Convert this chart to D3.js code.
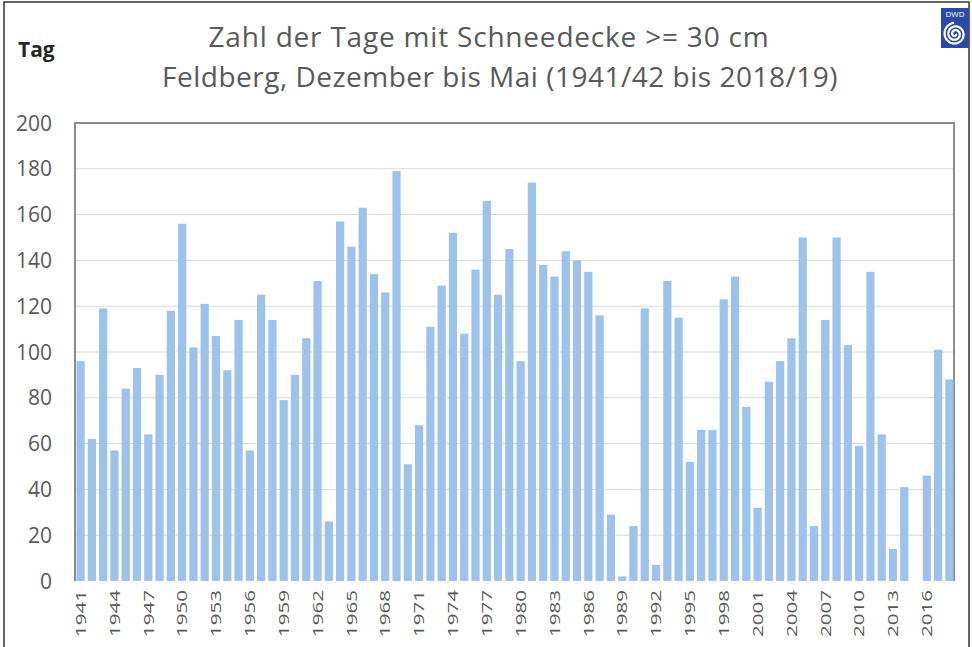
<!DOCTYPE html>
<html lang="de">
<head>
    <meta charset="UTF-8">
    <title>Zahl der Tage mit Schneedecke >= 30 cm</title>
    <script src="https://d3js.org/d3.v7.min.js"></script>
    <style>
        body { margin: 0; background: #fff; }
        svg { display: block; font-family: "Open Sans", sans-serif; }
    </style>
</head>
<body>
    <div id="chart"></div>
    <script>
        // Winter starting year (Dec..May), 1941/42 .. 2018/19
        const years = d3.range(1941, 2019);
        // days with snow depth >= 30 cm
        const days = [
            96, 62, 119, 57, 84, 93, 64, 90, 118, 156,
            102, 121, 107, 92, 114, 57, 125, 114, 79, 90,
            106, 131, 26, 157, 146, 163, 134, 126, 179, 51,
            68, 111, 129, 152, 108, 136, 166, 125, 145, 96,
            174, 138, 133, 144, 140, 135, 116, 29, 2, 24,
            119, 7, 131, 115, 52, 66, 66, 123, 133, 76,
            32, 87, 96, 106, 150, 24, 114, 150, 103, 59,
            135, 64, 14, 41, 0, 46, 101, 88
        ];
        const yTicks = [0, 20, 40, 60, 80, 100, 120, 140, 160, 180, 200];
        const xLabels = years.filter(y => (y - 1941) % 3 === 0);

        const width = 972, height = 647;
        const margin = { top: 123, right: 17, bottom: 66, left: 75 };

        const svg = d3.select("#chart").append("svg")
            .attr("width", width)
            .attr("height", height);

        // outer frame
        svg.append("path")
            .attr("d", `M4,${height} V2 H969 V${height}`)
            .attr("fill", "none")
            .attr("stroke", "#333")
            .attr("stroke-width", 1.5);

        const x = d3.scaleBand()
            .domain(years)
            .range([margin.left, width - margin.right])
            .paddingInner(0.27)
            .paddingOuter(0.13);

        const y = d3.scaleLinear()
            .domain([0, 200])
            .range([height - margin.bottom, margin.top]);

        // gridlines
        svg.append("g")
            .selectAll("line")
            .data(yTicks.slice(1))
            .join("line")
            .attr("x1", margin.left)
            .attr("x2", width - margin.right)
            .attr("y1", d => y(d))
            .attr("y2", d => y(d))
            .attr("stroke", "#d9d9d9")
            .attr("stroke-width", 1);

        // plot border (left, top, right)
        svg.append("path")
            .attr("d", `M${margin.left},${y(0)} V${y(200)} H${width - margin.right - 1} V${y(0)}`)
            .attr("fill", "none")
            .attr("stroke", "#8c8c8c")
            .attr("stroke-width", 2);

        // bars
        svg.append("g")
            .selectAll("rect")
            .data(years)
            .join("rect")
            .attr("x", d => x(d))
            .attr("width", x.bandwidth())
            .attr("y", (d, i) => y(days[i]))
            .attr("height", (d, i) => y(0) - y(days[i]))
            .attr("fill", "#9dc3ec");

        // y axis labels
        svg.append("g")
            .selectAll("text")
            .data(yTicks)
            .join("text")
            .attr("x", 52)
            .attr("y", d => y(d))
            .attr("dy", "0.36em")
            .attr("text-anchor", "end")
            .attr("font-size", 21)
            .attr("fill", "#595959")
            .text(d => d);

        // x axis labels, rotated (the source picture stretches them along the text)
        svg.append("g")
            .selectAll("text")
            .data(xLabels)
            .join("text")
            .attr("transform", d => `translate(${x(d) + x.bandwidth() / 2},${y(0) + 9}) rotate(-90) scale(1.42,1)`)
            .attr("dy", "0.36em")
            .attr("text-anchor", "end")
            .attr("font-size", 14.5)
            .attr("fill", "#595959")
            .text(d => d);

        // titles
        svg.append("text")
            .attr("x", 489)
            .attr("y", 47)
            .attr("text-anchor", "middle")
            .attr("font-size", 28)
            .attr("letter-spacing", 0.8)
            .attr("fill", "#595959")
            .text("Zahl der Tage mit Schneedecke >= 30 cm");
        svg.append("text")
            .attr("x", 500)
            .attr("y", 87)
            .attr("text-anchor", "middle")
            .attr("font-size", 28)
            .attr("letter-spacing", 0.5)
            .attr("fill", "#595959")
            .text("Feldberg, Dezember  bis Mai (1941/42 bis 2018/19)");

        svg.append("text")
            .attr("x", 18)
            .attr("y", 57)
            .attr("font-size", 21)
            .attr("font-weight", "bold")
            .attr("fill", "#262626")
            .text("Tag");

        // DWD logo
        const logo = svg.append("g").attr("transform", "translate(941,8)");
        logo.append("rect")
            .attr("width", 28).attr("height", 40)
            .attr("fill", "#2a4aa8");
        logo.append("text")
            .attr("x", 14).attr("y", 9)
            .attr("text-anchor", "middle")
            .attr("font-size", 8)
            .attr("fill", "#fff")
            .text("DWD");
        const spiral = d3.range(0, 5.5 * Math.PI, 0.1).map(t => {
            const r = 1 + t * 0.6;
            return [14 + r * Math.cos(t), 26 + r * Math.sin(t)];
        });
        logo.append("path")
            .attr("d", d3.line()(spiral))
            .attr("fill", "none")
            .attr("stroke", "#fff")
            .attr("stroke-width", 2.2);
    </script>
</body>
</html>
